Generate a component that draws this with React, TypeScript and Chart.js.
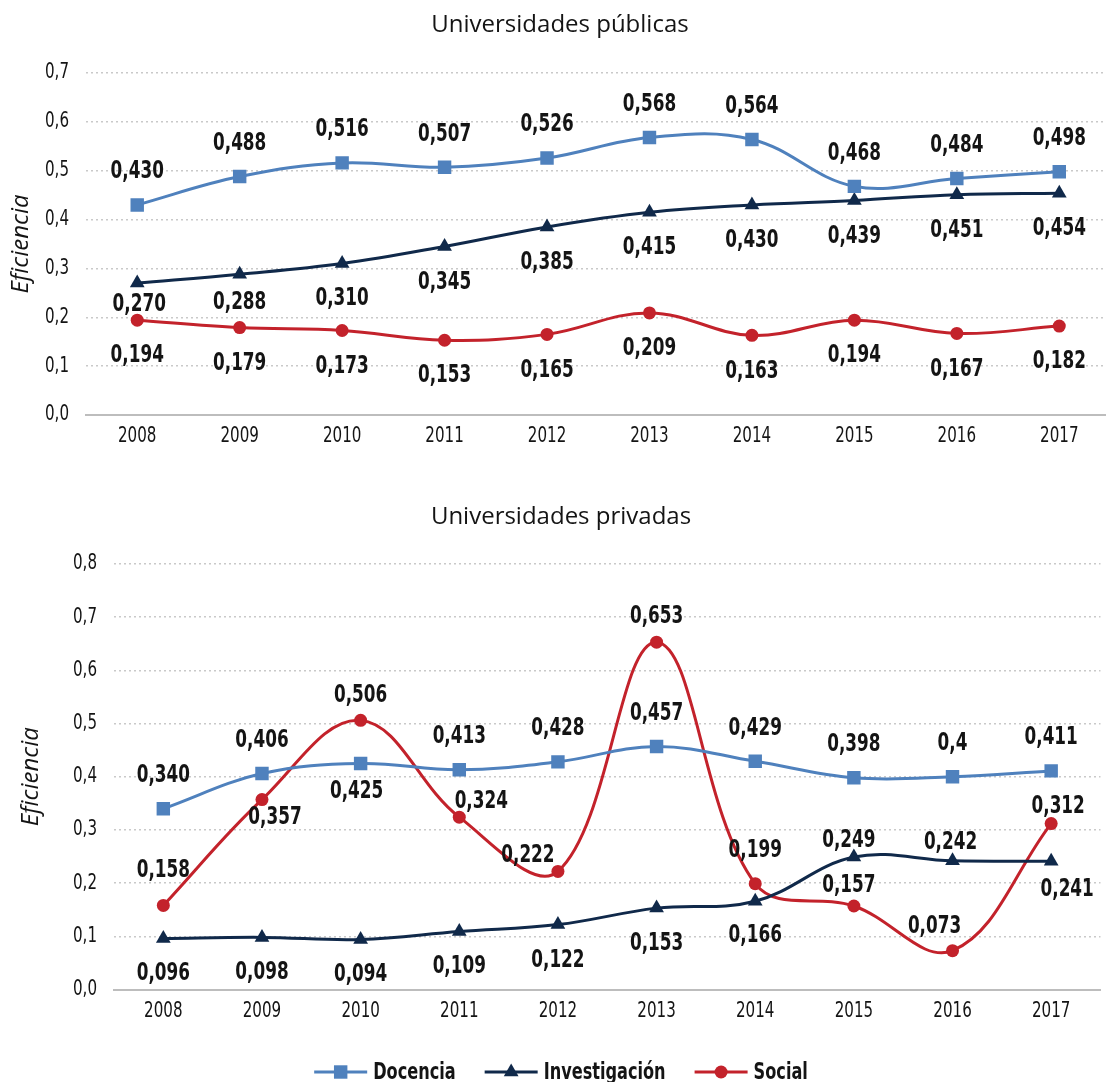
import React, { useEffect, useRef } from 'react';
import { Chart, registerables } from 'chart.js';

Chart.register(...registerables);

// ---------- data ----------
const YEARS = ['2008', '2009', '2010', '2011', '2012', '2013', '2014', '2015', '2016', '2017'];
const SERIES_NAMES = ['Docencia', 'Investigación', 'Social'];

const PUB_DOCENCIA = [0.430, 0.488, 0.516, 0.507, 0.526, 0.568, 0.564, 0.468, 0.484, 0.498];
const PUB_INVESTIGACION = [0.270, 0.288, 0.310, 0.345, 0.385, 0.415, 0.430, 0.439, 0.451, 0.454];
const PUB_SOCIAL = [0.194, 0.179, 0.173, 0.153, 0.165, 0.209, 0.163, 0.194, 0.167, 0.182];

const PRIV_DOCENCIA = [0.340, 0.406, 0.425, 0.413, 0.428, 0.457, 0.429, 0.398, 0.4, 0.411];
const PRIV_INVESTIGACION = [0.096, 0.098, 0.094, 0.109, 0.122, 0.153, 0.166, 0.249, 0.242, 0.241];
const PRIV_SOCIAL = [0.158, 0.357, 0.506, 0.324, 0.222, 0.653, 0.199, 0.157, 0.073, 0.312];

// label text exceptions (shown as printed in the source)
const PRIV_DOCENCIA_LABEL_TEXT: Record<number, string> = { 8: '0,4' };

// ---------- label placement (offset from the point, px) ----------
type Off = [number, number];
const A: Off = [0, -33];
const B: Off = [0, 36];
const PUB_DOC_OFF: Off[] = [A, A, A, A, A, A, A, A, A, A];
const PUB_INV_OFF: Off[] = [[2, 22], [0, 28], [0, 35], B, B, B, B, B, B, B];
const PUB_SOC_OFF: Off[] = [B, B, B, B, B, B, B, B, B, B];
const PRIV_DOC_OFF: Off[] = [A, A, [-4, 28], A, A, A, A, A, A, A];
const PRIV_INV_OFF: Off[] = [[0, 35], [0, 35], [0, 35], [0, 35], [0, 36], [0, 36], [0, 35], [-5, -16], [-2, -18], [16, 28]];
const PRIV_SOC_OFF: Off[] = [[0, -35], [13, 18], [0, -25], [22, -15], [-30, -16], [0, -25], [0, -33], [-5, -20], [-18, -24], [7, -17]];

// ---------- styles ----------
const COLORS = ['#4f81bd', '#10294a', '#c3222b'];
const POINT_STYLES = ['rect', 'triangle', 'circle'];
const POINT_RADII = [9.5, 8.5, 6.5];
const NARROW = '"Liberation Sans Narrow", "DejaVu Sans Condensed", "Noto Sans", sans-serif';
const HUMANIST = '"Open Sans", "Noto Sans", sans-serif';
const TEXT_COLOR = '#141414';
const BOLD_SQUEEZE = 0.78;
const REG_SQUEEZE = 0.8;

const fmt = (v: number) => v.toFixed(3).replace('.', ',');

function narrowText(
  ctx: CanvasRenderingContext2D,
  text: string,
  x: number,
  y: number,
  align: CanvasTextAlign,
  squeeze: number
) {
  ctx.save();
  ctx.translate(x, y);
  ctx.scale(squeeze, 1);
  ctx.textAlign = align;
  ctx.textBaseline = 'middle';
  ctx.fillText(text, 0, 0);
  ctx.restore();
}

const pointLabelsPlugin = {
  id: 'pointLabels',
  afterDatasetsDraw(chart: any) {
    const ctx = chart.ctx;
    ctx.save();
    ctx.font = `bold 24px ${NARROW}`;
    ctx.fillStyle = TEXT_COLOR;
    chart.data.datasets.forEach((ds: any, di: number) => {
      const meta = chart.getDatasetMeta(di);
      meta.data.forEach((pt: any, i: number) => {
        const [dx, dy] = ds.labelOffsets[i];
        const txt = (ds.labelText && ds.labelText[i]) || fmt(ds.data[i]);
        narrowText(ctx, txt, pt.x + dx, pt.y + dy, 'center', BOLD_SQUEEZE);
      });
    });
    ctx.restore();
  },
};

// tick labels drawn in a condensed face (Chart.js positions them via its scales)
const narrowTicksPlugin = {
  id: 'narrowTicks',
  afterDraw(chart: any) {
    const ctx = chart.ctx;
    const { x: xs, y: ys } = chart.scales;
    const area = chart.chartArea;
    ctx.save();
    ctx.font = `21px ${NARROW}`;
    ctx.fillStyle = TEXT_COLOR;
    ys.ticks.forEach((t: any) => {
      const py = ys.getPixelForValue(t.value);
      narrowText(ctx, Number(t.value).toFixed(1).replace('.', ','), area.left - 17, py, 'right', REG_SQUEEZE);
    });
    xs.ticks.forEach((_t: any, i: number) => {
      const px = xs.getPixelForTick(i);
      narrowText(ctx, String(chart.data.labels[i]), px, area.bottom + 22, 'center', REG_SQUEEZE);
    });
    ctx.restore();
  },
};

function drawMarker(ctx: CanvasRenderingContext2D, style: string, x: number, y: number, r: number, color: string) {
  ctx.fillStyle = color;
  ctx.beginPath();
  if (style === 'rect') {
    const s = r * Math.SQRT1_2;
    ctx.rect(x - s, y - s, 2 * s, 2 * s);
  } else if (style === 'triangle') {
    ctx.moveTo(x, y - r);
    ctx.lineTo(x + r * Math.sin((2 * Math.PI) / 3), y - r * Math.cos((2 * Math.PI) / 3));
    ctx.lineTo(x + r * Math.sin((4 * Math.PI) / 3), y - r * Math.cos((4 * Math.PI) / 3));
    ctx.closePath();
  } else {
    ctx.arc(x, y, r, 0, Math.PI * 2);
  }
  ctx.fill();
}

const lineLegendPlugin = {
  id: 'lineLegend',
  afterDraw(chart: any, _args: any, opts: any) {
    if (!opts || !opts.display) return;
    const ctx = chart.ctx;
    ctx.save();
    ctx.font = `bold 23px ${NARROW}`;
    const lineLen = 53;
    const gapText = 6;
    const gapItem = 29;
    const items = chart.data.datasets.map((ds: any) => ({ ds, w: ctx.measureText(ds.label).width * BOLD_SQUEEZE }));
    const total = items.reduce((s: number, it: any) => s + lineLen + gapText + it.w, 0) + gapItem * (items.length - 1);
    let x = opts.centerX - total / 2;
    const y = opts.y;
    items.forEach(({ ds, w }: any) => {
      ctx.strokeStyle = ds.borderColor;
      ctx.lineWidth = 3;
      ctx.beginPath();
      ctx.moveTo(x, y);
      ctx.lineTo(x + lineLen, y);
      ctx.stroke();
      drawMarker(ctx, ds.pointStyle, x + lineLen / 2, y, ds.pointRadius, ds.backgroundColor);
      ctx.fillStyle = TEXT_COLOR;
      narrowText(ctx, ds.label, x + lineLen + gapText, y + 1, 'left', BOLD_SQUEEZE);
      x += lineLen + gapText + w + gapItem;
    });
    ctx.restore();
  },
};

function makeDatasets(values: number[][], offsets: Off[][], texts: (Record<number, string> | undefined)[]) {
  return values.map((data, i) => ({
    label: SERIES_NAMES[i],
    data,
    borderColor: COLORS[i],
    backgroundColor: COLORS[i],
    pointBackgroundColor: COLORS[i],
    pointBorderColor: COLORS[i],
    pointBorderWidth: 0,
    pointStyle: POINT_STYLES[i],
    pointRadius: POINT_RADII[i],
    pointHoverRadius: POINT_RADII[i],
    borderWidth: 3,
    tension: 0.38,
    fill: false,
    labelOffsets: offsets[i],
    labelText: texts[i],
  }));
}

function makeConfig(p: {
  title: string;
  datasets: any[];
  yMax: number;
  axisWidth: number;
  padLeft: number;
  padBottom: number;
  titleTop: number;
  titleBottom: number;
  yTitlePad: number;
  legend: any;
}) {
  return {
    type: 'line',
    data: { labels: YEARS, datasets: p.datasets },
    plugins: [pointLabelsPlugin, narrowTicksPlugin, lineLegendPlugin],
    options: {
      responsive: false,
      animation: false,
      devicePixelRatio: 1,
      layout: { padding: { left: p.padLeft, right: 0, top: 0, bottom: p.padBottom } },
      plugins: {
        legend: { display: false },
        tooltip: { enabled: false },
        title: {
          display: true,
          text: p.title,
          color: TEXT_COLOR,
          font: { family: HUMANIST, size: 24, weight: 'normal', lineHeight: 1.2 },
          padding: { top: p.titleTop, bottom: p.titleBottom },
        },
        lineLegend: p.legend,
      },
      scales: {
        x: {
          type: 'category',
          offset: true,
          grid: { display: false, drawTicks: false },
          border: { display: true, color: '#bdbdbd', width: 2 },
          ticks: {
            color: 'rgba(0,0,0,0)',
            padding: 10,
            maxRotation: 0,
            autoSkip: false,
            font: { family: NARROW, size: 20, lineHeight: 1.2 },
          },
          afterFit: (scale: any) => {
            scale.height = 40;
          },
        },
        y: {
          min: 0,
          max: p.yMax,
          grid: {
            drawTicks: false,
            lineWidth: 1.5,
            color: (ctx: any) => (ctx.tick && ctx.tick.value === 0 ? 'rgba(0,0,0,0)' : '#c9c9c9'),
          },
          border: { display: false, dash: [2, 3] },
          ticks: {
            stepSize: 0.1,
            padding: 17,
            color: 'rgba(0,0,0,0)',
            font: { family: NARROW, size: 20 },
            callback: (v: any) => Number(v).toFixed(1).replace('.', ','),
          },
          title: {
            display: true,
            text: 'Eficiencia',
            color: TEXT_COLOR,
            font: { family: HUMANIST, size: 24, style: 'italic', lineHeight: 1.2 },
            padding: { top: p.yTitlePad, bottom: 0 },
          },
          afterFit: (scale: any) => {
            scale.width = p.axisWidth;
          },
        },
      },
    },
  } as any;
}

export default function App() {
  const topRef = useRef<HTMLCanvasElement>(null);
  const botRef = useRef<HTMLCanvasElement>(null);

  useEffect(() => {
    const top = new Chart(
      topRef.current as HTMLCanvasElement,
      makeConfig({
        title: 'Universidades públicas',
        datasets: makeDatasets(
          [PUB_DOCENCIA, PUB_INVESTIGACION, PUB_SOCIAL],
          [PUB_DOC_OFF, PUB_INV_OFF, PUB_SOC_OFF],
          [undefined, undefined, undefined]
        ),
        yMax: 0.7,
        axisWidth: 86,
        padLeft: 0,
        padBottom: 15,
        titleTop: 10.6,
        titleBottom: 33.6,
        yTitlePad: 7,
        legend: { display: false },
      })
    );
    const bottom = new Chart(
      botRef.current as HTMLCanvasElement,
      makeConfig({
        title: 'Universidades privadas',
        datasets: makeDatasets(
          [PRIV_DOCENCIA, PRIV_INVESTIGACION, PRIV_SOCIAL],
          [PRIV_DOC_OFF, PRIV_INV_OFF, PRIV_SOC_OFF],
          [PRIV_DOCENCIA_LABEL_TEXT, undefined, undefined]
        ),
        yMax: 0.8,
        axisWidth: 102,
        padLeft: 12,
        padBottom: 52.5,
        titleTop: 33.1,
        titleBottom: 32.1,
        yTitlePad: 5,
        legend: { display: true, centerX: 561, y: 602 },
      })
    );
    return () => {
      top.destroy();
      bottom.destroy();
    };
  }, []);

  return (
    <div
      style={{
        position: 'absolute',
        left: 0,
        top: 0,
        width: 1106,
        height: 1082,
        overflow: 'hidden',
        background: '#ffffff',
      }}
    >
      <canvas ref={topRef} width={1120} height={470} style={{ position: 'absolute', left: 0, top: 0 }} />
      <canvas ref={botRef} width={1110} height={612} style={{ position: 'absolute', left: 0, top: 470 }} />
    </div>
  );
}
